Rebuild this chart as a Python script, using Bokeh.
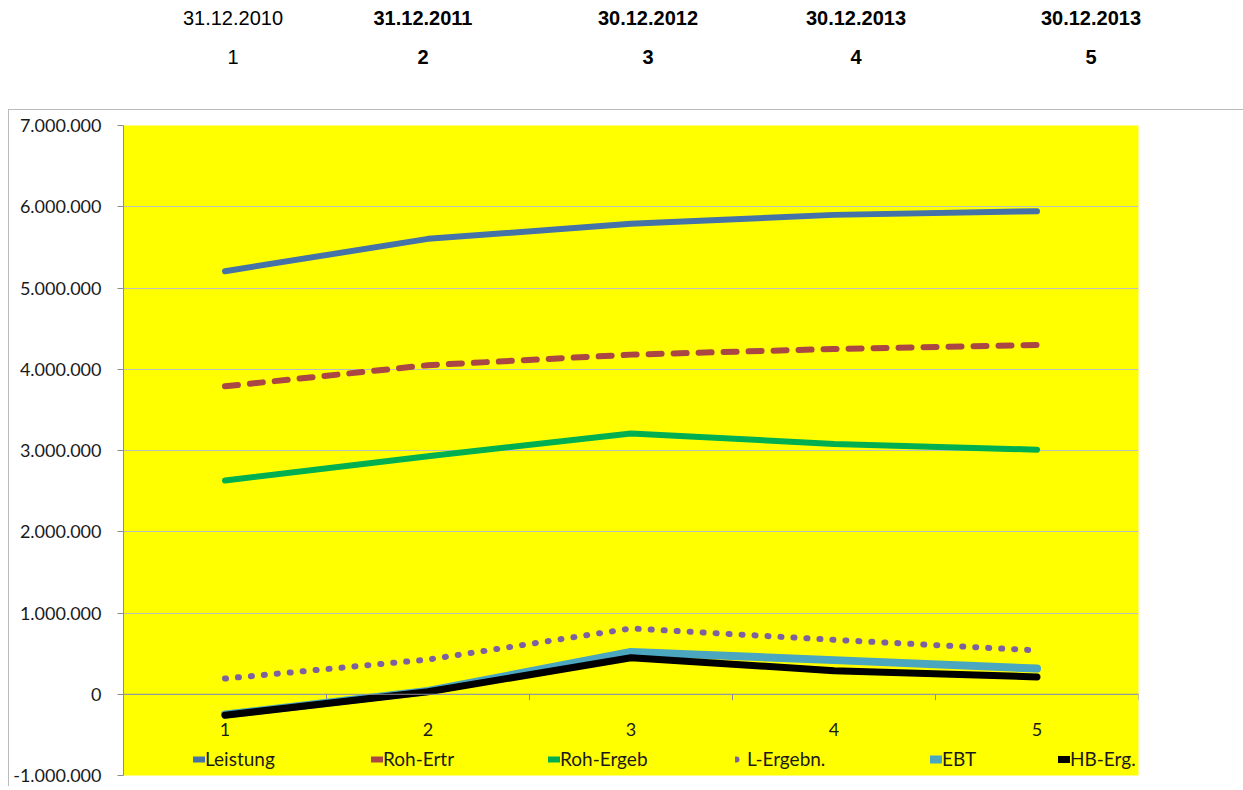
from bokeh.plotting import figure
from bokeh.models import Range1d, FixedTicker, Span, Legend, LegendItem, Div
from bokeh.layouts import column
from bokeh.core.properties import value
from bokeh.embed import file_html
from bokeh.resources import INLINE

# ---------------- data ----------------
cats = [1, 2, 3, 4, 5]
leistung = [5207000, 5605000, 5790000, 5900000, 5945000]
roh_ertr = [3790000, 4050000, 4180000, 4250000, 4300000]
roh_ergeb = [2630000, 2930000, 3210000, 3080000, 3010000]
l_ergebn = [193000, 427000, 810000, 670000, 540000]
ebt = [-250000, 40000, 520000, 420000, 316000]
hb_erg = [-258000, 30000, 450000, 290000, 213000]

series_names = ["Leistung", "Roh-Ertr", "Roh-Ergeb", "L-Ergebn.", "EBT", "HB-Erg."]

header_dates = ["31.12.2010", "31.12.2011", "30.12.2012", "30.12.2013", "30.12.2013"]
header_nums = ["1", "2", "3", "4", "5"]

y_ticks = [-1000000, 0, 1000000, 2000000, 3000000, 4000000, 5000000, 6000000, 7000000]
y_tick_labels = ["-1.000.000", "0", "1.000.000", "2.000.000", "3.000.000",
                 "4.000.000", "5.000.000", "6.000.000", "7.000.000"]

# ---------------- header (spreadsheet cells above the chart) ----------------
header_x = [233, 423, 648, 856, 1091]
spans = []
for i, (hx, d, n) in enumerate(zip(header_x, header_dates, header_nums)):
    weight = "normal" if i == 0 else "bold"
    for txt, hy in ((d, 18), (n, 57)):
        spans.append(
            f'<span style="position:absolute;left:{hx}px;top:{hy}px;'
            f'transform:translate(-50%,-50%);white-space:nowrap;'
            f'font-weight:{weight}">{txt}</span>')
header_html = (
    '<div style="position:relative;width:1243px;height:110px;'
    "font-family:'Liberation Sans',Arial,sans-serif;font-size:20px;color:#000;\">"
    + "".join(spans)
    + '<div style="position:absolute;left:8px;right:0;top:109px;height:0;'
      'border-top:1px solid #BBBBBB"></div></div>')
header = Div(text=header_html, width=1243, height=110, margin=0)

# ---------------- figure ----------------
FONT = "Lato"
p = figure(width=1243, height=676,
           x_range=Range1d(0.5, 5.5), y_range=Range1d(-1000000, 7000000),
           x_axis_location=None, output_backend="svg", toolbar_location=None,
           background_fill_color="#FFFF00", border_fill_color=None,
           outline_line_color=None, margin=0,
           min_border_left=123, min_border_right=105,
           min_border_top=15, min_border_bottom=11)
p.styles = {"background": "linear-gradient(#BBBBBB, #BBBBBB) no-repeat 8px 0 / 1px 100%, #FFFFFF"}

# y axis
ax = p.yaxis[0]
ax.ticker = FixedTicker(ticks=y_ticks)
ax.major_label_overrides = {t: l for t, l in zip(y_ticks, y_tick_labels)}
ax.axis_line_color = "#8C8C8C"
ax.major_tick_line_color = "#8C8C8C"
ax.major_tick_out = 6
ax.major_tick_in = 0
ax.minor_tick_line_color = None
ax.major_label_standoff = 16
ax.major_label_text_font = FONT
ax.major_label_text_font_size = "18px"
ax.major_label_text_color = "#1a1a1a"

p.xgrid.visible = False
p.ygrid.grid_line_color = "#BEBEBE"
p.ygrid.grid_line_width = 1

# zero line and category ticks
p.add_layout(Span(location=0, dimension="width", line_color="#8C8C9C", line_width=1))
bounds = [c - 0.5 for c in cats] + [cats[-1] + 0.5]
tick_len = 6 * 8000000 / 650
p.segment(x0=bounds, y0=[0] * len(bounds), x1=bounds, y1=[-tick_len] * len(bounds),
          line_color="#8C8C8C", line_width=1)

# category labels
p.text(x=cats, y=[0] * len(cats), text=[str(c) for c in cats], y_offset=35,
       text_align="center", text_baseline="middle", text_font=value(FONT),
       text_font_size="18px", text_color="#1a1a1a")

# ---------------- series ----------------
styles = [
    dict(line_color="#4572A7", line_width=6),
    dict(line_color="#AA4643", line_width=6, line_dash="13 12"),
    dict(line_color="#00B050", line_width=6),
    dict(line_color="#7D60A0", line_width=6, line_dash="1 12"),
    dict(line_color="#4BA6C0", line_width=8),
    dict(line_color="#000000", line_width=7),
]
data = [leistung, roh_ertr, roh_ergeb, l_ergebn, ebt, hb_erg]
renderers = []
for vals, st in zip(data, styles):
    r = p.line(cats, vals, line_cap="round", line_join="round", **st)
    renderers.append(r)

# ---------------- legend (one per item, Excel-like spacing) ----------------
legend_x = [70, 248, 425, 612, 807, 935]
for name, r, lx in zip(series_names, renderers, legend_x):
    lg = Legend(items=[LegendItem(label=name, renderers=[r])],
                location=(lx, 5), orientation="horizontal",
                background_fill_alpha=0, border_line_color=None,
                padding=0, margin=0, spacing=0, label_standoff=0,
                glyph_width=12, glyph_height=18,
                label_text_font=FONT, label_text_font_size="19px",
                label_text_color="#1a1a1a", label_height=18)
    p.add_layout(lg)

layout = column(header, p, spacing=0)
open("out.html", "w").write(file_html(layout, INLINE))
